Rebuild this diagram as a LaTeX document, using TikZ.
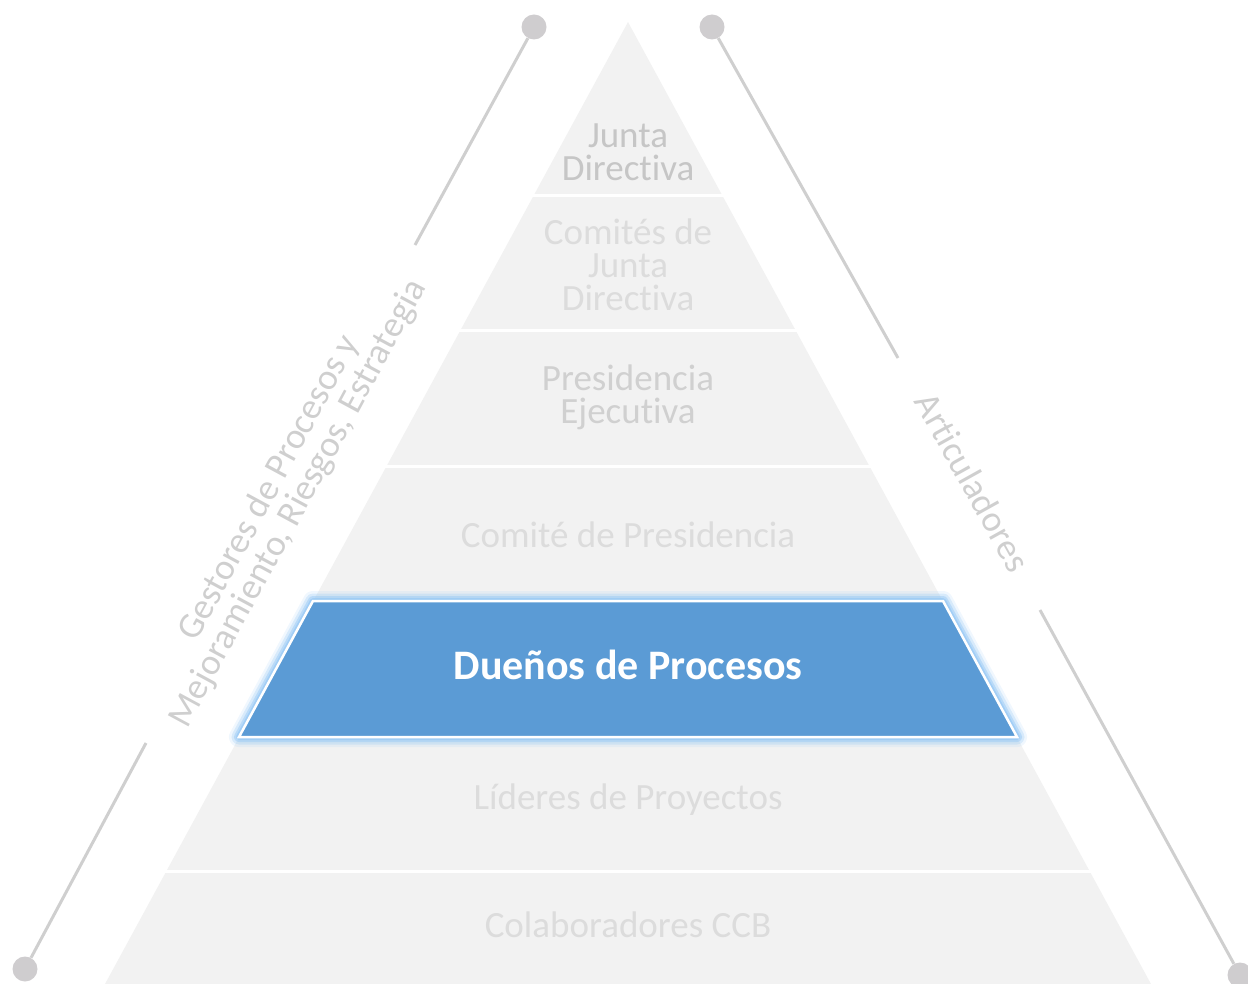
\documentclass[tikz,border=0pt]{standalone}
\usepackage{fontspec}
\setmainfont{Carlito}[Ligatures=NoCommon]
\definecolor{layerfill}{HTML}{F2F2F2}
\definecolor{faint}{HTML}{DCDCDC}
\definecolor{mid}{HTML}{D0D0D0}
\definecolor{dark}{HTML}{C6C6C6}
\definecolor{owner}{HTML}{5B9BD5}
\definecolor{glow}{HTML}{9CCBF5}
\definecolor{sidegray}{HTML}{CFCFCF}
\definecolor{dotgray}{HTML}{CFCDCF}

\begin{document}
\begin{tikzpicture}[x=1pt,y=-1pt]
        \tikzset{layer text/.style={align=center,text=faint,font=\fontsize{37}{33}\selectfont},
          dot/.style={circle,fill=dotgray,minimum size=25pt,inner sep=0pt},
          side line/.style={draw=sidegray,line width=3pt},
          side text/.style={align=center,text=sidegray,font=\fontsize{36.5}{33}\selectfont},
          cut/.style={draw=white,line width=3pt}}
          \useasboundingbox (0,0) rectangle (1248,984);
          % pyramid
          \coordinate (apex) at (628,22);
          \coordinate (base left) at (105,984);
          \coordinate (base right) at (1151,984);
          \fill[layerfill] (apex) -- (base left) -- (base right) -- cycle;
          \foreach \y in {196,331,466,601,737,871}
            \draw[cut] (0,\y) -- (1248,\y);
          % highlighted layer
          \coordinate (o1) at (313,601);
          \coordinate (o2) at (943,601);
          \coordinate (o3) at (1017,737);
          \coordinate (o4) at (239,737);
          \foreach \w/\o in {20/0.15,15/0.3,10/0.5,6/0.8}
            \draw[glow,line width=\w pt,opacity=\o,line join=round] (o1) -- (o2) -- (o3) -- (o4) -- cycle;
          \draw[white,line width=2.5pt,fill=owner] (o1) -- (o2) -- (o3) -- (o4) -- cycle;
          % layer labels
          \node[layer text,text=dark] (junta) at (628,152) {Junta\\Directiva};
          \node[layer text] (comites) at (628,265) {Comités de\\Junta\\Directiva};
          \node[layer text,text=mid] (presidencia) at (628,397) {Presidencia\\Ejecutiva};
          \node[layer text] (comite) at (628,535) {Comité de Presidencia};
          \node[layer text,text=white,font=\fontsize{42}{42}\selectfont\bfseries] (duenos) at (628,665) {Dueños de Procesos};
          \node[layer text] (lideres) at (628,800) {Líderes de Proyectos};
          \node[layer text] (colab) at (628,925) {Colaboradores CCB};
          % left side
          \node[dot] (gestores top) at (534,27) {};
          \node[dot] (gestores bottom) at (25,969) {};
          \coordinate (gestores a) at (415,245);
          \coordinate (gestores b) at (146,743);
          \draw[side line] (gestores top) -- (gestores a);
          \draw[side line] (gestores b) -- (gestores bottom);
          \node[side text,rotate=61.6] (gestores) at (284,496) {Gestores de Procesos y\\Mejoramiento, Riesgos, Estrategia};
          % right side
          \node[dot] (art top) at (712,27) {};
          \node[dot] (art bottom) at (1240,975) {};
          \coordinate (art a) at (898,358);
          \coordinate (art b) at (1040,610);
          \draw[side line] (art top) -- (art a);
          \draw[side line] (art b) -- (art bottom);
          \node[side text,rotate=-60.9] (articuladores) at (973,482) {Articuladores};
\end{tikzpicture}
\end{document}
